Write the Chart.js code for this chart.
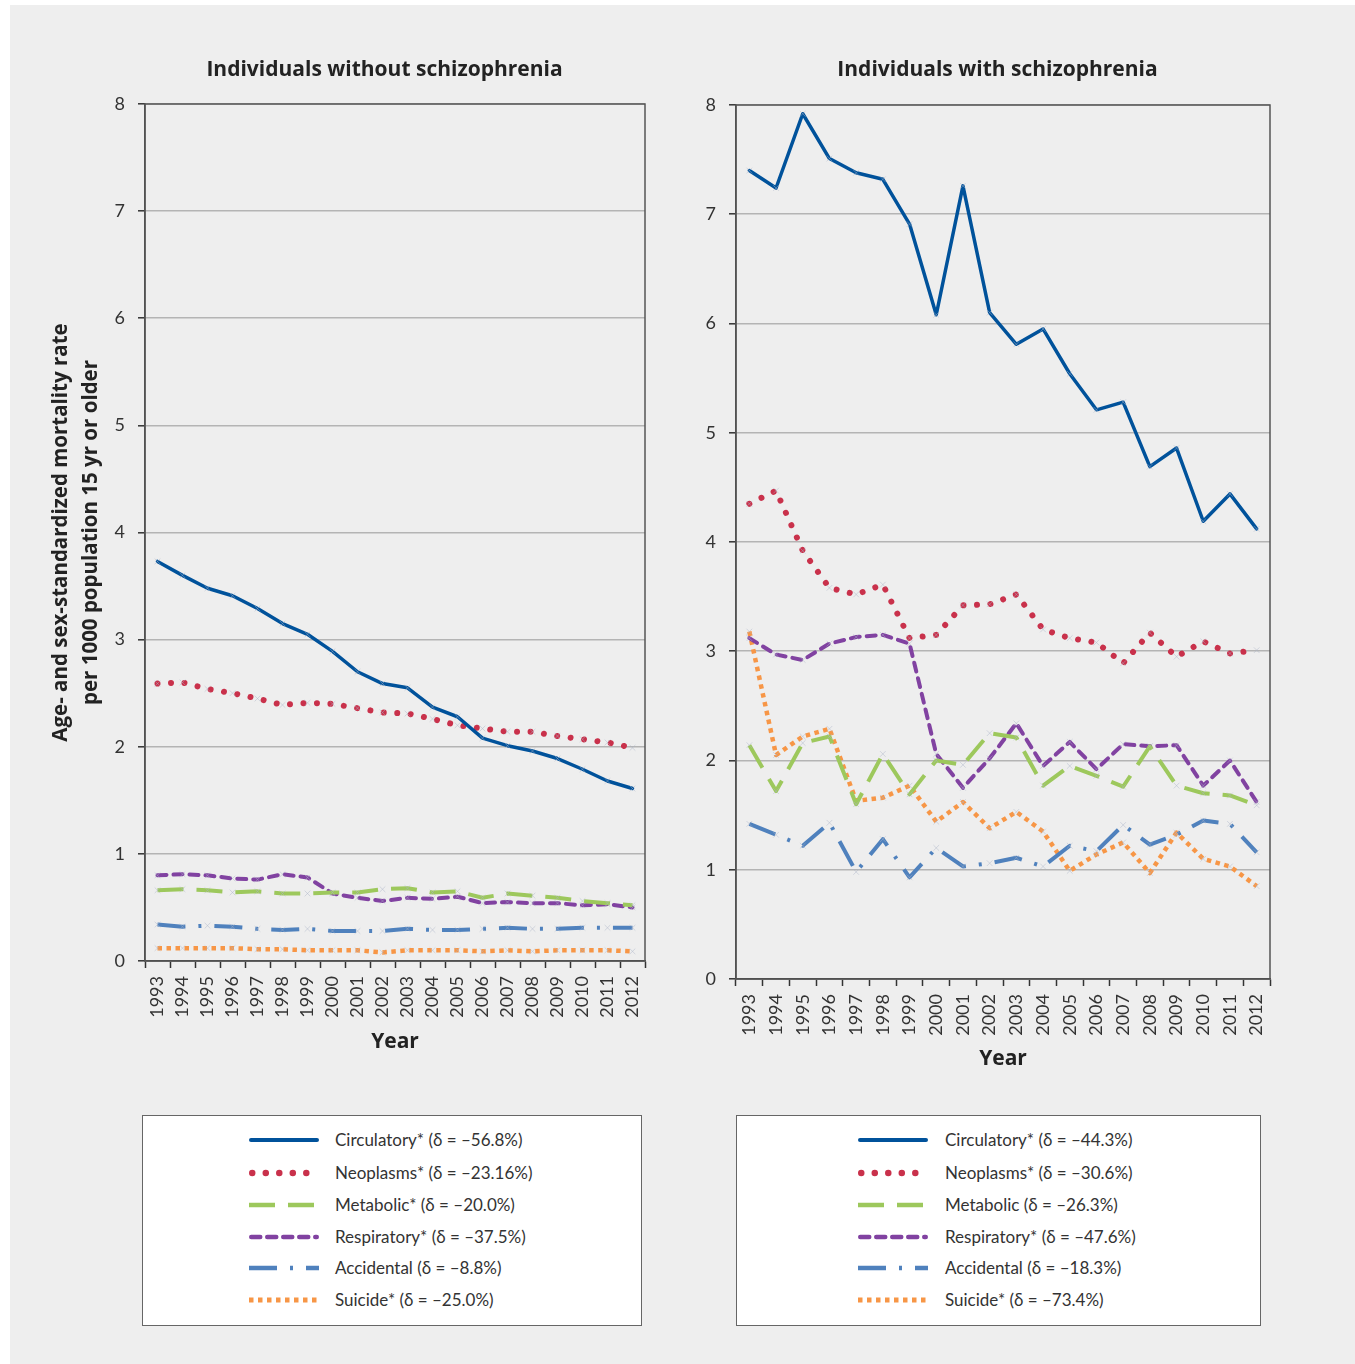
<!DOCTYPE html>
<html>
<head>
<meta charset="utf-8">
<script src="https://cdn.jsdelivr.net/npm/chart.js@4/dist/chart.umd.min.js"></script>
<style>
  html, body { margin: 0; padding: 0; background: #ffffff; }
  body { width: 1355px; height: 1364px; position: relative; overflow: hidden; font-family: Lato, "Noto Sans", sans-serif; }
  #bg { position: absolute; left: 10px; top: 5px; right: 0; bottom: 0; background: #eeeeee; }
  canvas { position: absolute; }
  .legend { position: absolute; top: 1115px; height: 211px; background: #fff; border: 1.5px solid #666; box-sizing: border-box; }
  .row { position: absolute; left: 0; height: 30px; width: 100%; }
  .row svg { position: absolute; top: 0; }
  .row span { position: absolute; top: 0; line-height: 30px; font-size: 17px; color: #333; white-space: nowrap; }
</style>
</head>
<body>
<div id="bg"></div>
<canvas id="c1" width="729" height="1070" style="left:0;top:0"></canvas>
<canvas id="c2" width="675" height="1090" style="left:680px;top:0"></canvas>
<div class="legend" id="leg1" style="left:142px;width:500px"></div>
<div class="legend" id="leg2" style="left:736px;width:525px"></div>
<script>
// ---------- data ----------
const years = ['1993','1994','1995','1996','1997','1998','1999','2000','2001','2002','2003','2004','2005','2006','2007','2008','2009','2010','2011','2012'];
const yTicks = [0,1,2,3,4,5,6,7,8];
const seriesNames = ['Circulatory','Neoplasms','Metabolic','Respiratory','Accidental','Suicide'];

const titleWithout = 'Individuals without schizophrenia';
const titleWith = 'Individuals with schizophrenia';
const yAxisTitle = ['Age- and sex-standardized mortality rate', 'per 1000 population 15 yr or older'];
const xAxisTitle = 'Year';

// Without schizophrenia
const woCirculatory = [3.73,3.60,3.48,3.41,3.29,3.15,3.05,2.89,2.70,2.59,2.55,2.37,2.28,2.08,2.01,1.96,1.89,1.79,1.68,1.61];
const woNeoplasms   = [2.59,2.60,2.54,2.50,2.45,2.39,2.41,2.40,2.36,2.32,2.31,2.26,2.20,2.17,2.14,2.14,2.10,2.07,2.04,1.99];
const woMetabolic   = [0.66,0.67,0.66,0.64,0.65,0.63,0.63,0.64,0.64,0.67,0.68,0.64,0.65,0.59,0.63,0.61,0.59,0.56,0.54,0.52];
const woRespiratory = [0.80,0.81,0.80,0.77,0.76,0.81,0.78,0.63,0.59,0.56,0.59,0.58,0.60,0.54,0.55,0.54,0.54,0.52,0.53,0.50];
const woAccidental  = [0.34,0.32,0.33,0.32,0.30,0.29,0.30,0.28,0.28,0.28,0.30,0.29,0.29,0.30,0.31,0.30,0.30,0.31,0.31,0.31];
const woSuicide     = [0.12,0.12,0.12,0.12,0.11,0.11,0.10,0.10,0.10,0.08,0.10,0.10,0.10,0.09,0.10,0.09,0.10,0.10,0.10,0.09];
const woLegend = ['Circulatory* (δ = –56.8%)','Neoplasms* (δ = –23.16%)','Metabolic* (δ = –20.0%)','Respiratory* (δ = –37.5%)','Accidental (δ = –8.8%)','Suicide* (δ = –25.0%)'];

// With schizophrenia
const wCirculatory = [7.40,7.24,7.92,7.51,7.38,7.32,6.91,6.08,7.26,6.10,5.81,5.95,5.54,5.21,5.28,4.69,4.86,4.19,4.44,4.12];
const wNeoplasms   = [4.35,4.47,3.92,3.58,3.52,3.61,3.12,3.15,3.42,3.43,3.52,3.20,3.12,3.08,2.89,3.17,2.95,3.09,2.98,3.01];
const wMetabolic   = [2.14,1.72,2.16,2.22,1.60,2.06,1.69,2.00,1.96,2.25,2.21,1.77,1.95,1.86,1.76,2.13,1.77,1.70,1.68,1.59];
const wRespiratory = [3.12,2.97,2.92,3.07,3.13,3.15,3.07,2.06,1.75,2.02,2.34,1.95,2.17,1.92,2.15,2.13,2.14,1.77,2.00,1.62];
const wAccidental  = [1.42,1.32,1.22,1.43,0.98,1.28,0.93,1.20,1.03,1.06,1.11,1.03,1.22,1.17,1.41,1.23,1.32,1.45,1.42,1.16];
const wSuicide     = [3.18,2.05,2.22,2.29,1.63,1.66,1.77,1.44,1.62,1.38,1.53,1.35,0.99,1.14,1.25,0.97,1.34,1.10,1.03,0.85];
const wLegend = ['Circulatory* (δ = –44.3%)','Neoplasms* (δ = –30.6%)','Metabolic (δ = –26.3%)','Respiratory* (δ = –47.6%)','Accidental (δ = –18.3%)','Suicide* (δ = –73.4%)'];

// ---------- styles ----------
const colors = ['#00529b','#c9314b','#9dc85c','#8142a1','#4f81bd','#f79646'];
const lineStyles = [
  { width: 3.5, dash: [], cap: 'round' },
  { width: 6, dash: [0.01, 13.5], cap: 'round' },
  { width: 4, dash: [26, 13], cap: 'butt' },
  { width: 4, dash: [9, 7], cap: 'round' },
  { width: 4, dash: [28, 13, 3, 13], cap: 'butt' },
  { width: 4.5, dash: [4.5, 4.5], cap: 'butt' }
];
const FONT = 'Lato, "Noto Sans", sans-serif';
const BFONT = '"Open Sans", "Noto Sans", sans-serif';
const TXT = '#333333';

const frame = {
  id: 'frame',
  beforeDatasetsDraw(chart) {
    const a = chart.chartArea, ctx = chart.ctx;
    ctx.save();
    ctx.strokeStyle = '#555';
    ctx.lineWidth = 1.5;
    ctx.strokeRect(a.left, a.top, a.right - a.left, a.bottom - a.top);
    ctx.restore();
  }
};

function buildDatasets(arrs) {
  return arrs.map((d, i) => ({
    label: seriesNames[i],
    data: d,
    borderColor: colors[i],
    backgroundColor: colors[i],
    borderWidth: lineStyles[i].width,
    borderDash: lineStyles[i].dash,
    borderCapStyle: lineStyles[i].cap,
    borderJoinStyle: 'round',
    tension: 0,
    fill: false,
    pointStyle: 'crossRot',
    pointRadius: 4,
    pointBorderWidth: 1,
    pointBorderColor: 'rgba(170,180,200,0.45)',
    pointHoverRadius: 4
  }));
}

function makeChart(id, title, arrs, opt) {
  return new Chart(document.getElementById(id), {
    type: 'line',
    data: { labels: years, datasets: buildDatasets(arrs) },
    plugins: [frame],
    options: {
      responsive: false,
      animation: false,
      devicePixelRatio: 1,
      layout: { padding: { left: opt.padLeft, right: opt.padRight, top: 0, bottom: 0 } },
      plugins: {
        legend: { display: false },
        tooltip: { enabled: false },
        title: {
          display: true, text: title, color: '#222',
          font: { family: BFONT, size: 21, weight: 'bold', lineHeight: 1.2 },
          padding: { top: 57.5, bottom: opt.titleBottom }
        }
      },
      scales: {
        x: {
          type: 'category', offset: true,
          grid: { display: true, offset: true, drawOnChartArea: false, tickLength: 7, tickColor: '#333', tickWidth: 1.5 },
          border: { display: true, color: '#444', width: 1.5 },
          ticks: { autoSkip: false, maxRotation: 90, minRotation: 90, padding: 8, color: TXT, font: { family: FONT, size: 18 } },
          title: { display: true, text: xAxisTitle, color: '#222', font: { family: BFONT, size: 21, weight: 'bold', lineHeight: 1.2 }, padding: { top: 0, bottom: opt.yearPad } },
          afterFit(s) { s.height = opt.xHeight; }
        },
        y: {
          position: 'left', min: 0, max: 8,
          afterBuildTicks(s) { s.ticks = yTicks.map(v => ({ value: v })); },
          grid: { color: '#b4b4b4', lineWidth: 1.6, tickLength: 7, tickColor: '#333', tickWidth: 1.5 },
          border: { display: true, color: '#444', width: 1.5 },
          ticks: { padding: 13, color: TXT, font: { family: FONT, size: 18 } },
          title: opt.yTitle ? { display: true, text: yAxisTitle, color: '#222', font: { family: BFONT, size: 20.5, weight: 'bold', lineHeight: 1.46 }, padding: { top: 6, bottom: 0 } } : { display: false },
          afterFit(s) { s.width = opt.yWidth; }
        },
        y2: {
          type: 'linear', position: 'right', display: true,
          grid: { display: false }, border: { display: false }, ticks: { display: false },
          afterFit(s) { s.width = opt.y2Width; }
        }
      }
    }
  });
}

makeChart('c1', titleWithout, [woCirculatory, woNeoplasms, woMetabolic, woRespiratory, woAccidental, woSuicide],
  { padLeft: 40, padRight: 0, yWidth: 105, y2Width: 84, titleBottom: 21.3, xHeight: 109, yearPad: 15.5, yTitle: true });
makeChart('c2', titleWith, [wCirculatory, wNeoplasms, wMetabolic, wRespiratory, wAccidental, wSuicide],
  { padLeft: 0, padRight: 40, yWidth: 56, y2Width: 45, titleBottom: 22.3, xHeight: 111, yearPad: 18.5, yTitle: false });

// ---------- legends ----------
function buildLegend(id, labels, sampleLeft, textLeft) {
  const box = document.getElementById(id);
  const rowTops = [9, 42, 74, 106, 137, 169];
  labels.forEach((lab, i) => {
    const row = document.createElement('div');
    row.className = 'row';
    row.style.top = rowTops[i] + 'px';
    const st = lineStyles[i];
    const sw = st.width + 0.5;
    row.innerHTML =
      `<svg width="80" height="30" style="left:${sampleLeft - 4}px">` +
      `<line x1="${4 + (st.cap === 'round' ? sw / 2 : 0)}" y1="15" x2="${74 - (st.cap === 'round' ? sw / 2 : 0)}" y2="15" stroke="${colors[i]}" stroke-width="${sw}" stroke-linecap="${st.cap}"` +
      (st.dash.length ? ` stroke-dasharray="${st.dash.join(' ')}"` : '') + `/></svg>` +
      `<span style="left:${textLeft}px">${lab}</span>`;
    box.appendChild(row);
  });
}
buildLegend('leg1', woLegend, 106, 192);
buildLegend('leg2', wLegend, 121, 208);
</script>
</body>
</html>
